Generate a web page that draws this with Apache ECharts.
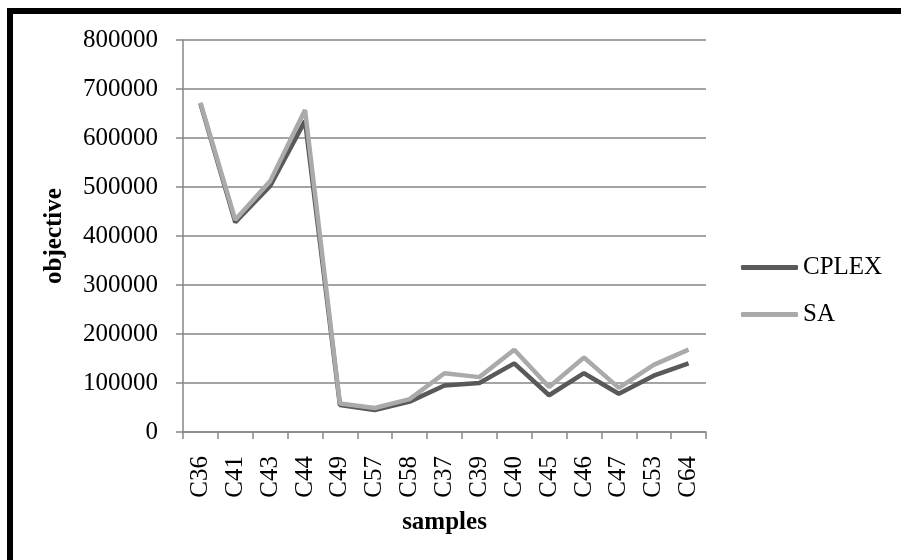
<!DOCTYPE html>
<html>
<head>
<meta charset="utf-8">
<script src="https://cdn.jsdelivr.net/npm/echarts@6/dist/echarts.min.js"></script>
<style>
html,body{margin:0;padding:0;background:#fff;}
#c{width:901px;height:560px;}
</style>
</head>
<body>
<div id="c"></div>
<script>
var categories = ['C36','C41','C43','C44','C49','C57','C58','C37','C39','C40','C45','C46','C47','C53','C64'];
var cplexValues = [670000, 428000, 502000, 635000, 55000, 45000, 62000, 95000, 100000, 140000, 75000, 120000, 78000, 115000, 140000];
var saValues = [672000, 433000, 512000, 657000, 58000, 49000, 67000, 120000, 112000, 168000, 92000, 152000, 90000, 137000, 168000];
var yTicks = [0, 100000, 200000, 300000, 400000, 500000, 600000, 700000, 800000];

var FONT = '"Liberation Serif", "Times New Roman", serif';
var chart = echarts.init(document.getElementById('c'), null, {renderer: 'canvas'});
chart.setOption({
  backgroundColor: '#fff',
  animation: false,
  graphic: [{
    type: 'rect',
    shape: {x: 10, y: 11, width: 1200, height: 1200},
    style: {fill: 'none', stroke: '#000', lineWidth: 6},
    silent: true
  }],
  grid: {left: 183, right: 195, top: 40, bottom: 128, containLabel: false},
  legend: {
    orient: 'vertical',
    left: 736,
    top: 250,
    itemWidth: 57,
    itemHeight: 5,
    itemGap: 22,
    icon: 'roundRect',
    textStyle: {fontFamily: FONT, fontSize: 25, color: '#000', lineHeight: 25, padding: [0,0,0,0]},
    data: ['CPLEX', 'SA']
  },
  xAxis: {
    type: 'category',
    data: categories,
    boundaryGap: true,
    name: 'samples',
    nameLocation: 'middle',
    nameGap: 78,
    nameTextStyle: {fontFamily: FONT, fontSize: 25, fontWeight: 'bold', color: '#000'},
    axisLine: {lineStyle: {color: '#868686', width: 1.5}},
    axisTick: {show: true, length: 7, lineStyle: {color: '#868686', width: 1.5}},
    axisLabel: {rotate: 90, margin: 24, fontFamily: FONT, fontSize: 25, color: '#000', interval: 0},
    splitLine: {show: false}
  },
  yAxis: {
    type: 'value',
    min: 0,
    max: 800000,
    interval: 100000,
    name: 'objective',
    nameLocation: 'middle',
    nameGap: 116,
    nameRotate: 90,
    nameTextStyle: {fontFamily: FONT, fontSize: 25, fontWeight: 'bold', color: '#000'},
    axisLine: {show: true, lineStyle: {color: '#868686', width: 1.5}},
    axisTick: {show: true, length: 7, lineStyle: {color: '#868686', width: 1.5}},
    axisLabel: {
      margin: 25, fontFamily: FONT, fontSize: 25, color: '#000',
      formatter: function (v) { return yTicks.indexOf(v) >= 0 ? String(v) : ''; }
    },
    splitLine: {show: true, lineStyle: {color: '#868686', width: 1.5}}
  },
  series: [
    {
      name: 'CPLEX', type: 'line', data: cplexValues,
      symbol: 'none', showSymbol: false,
      lineStyle: {color: '#595959', width: 4.5},
      itemStyle: {color: '#595959'},
      z: 2
    },
    {
      name: 'SA', type: 'line', data: saValues,
      symbol: 'none', showSymbol: false,
      lineStyle: {color: '#aaaaaa', width: 4.5},
      itemStyle: {color: '#aaaaaa'},
      z: 3
    }
  ]
});
</script>
</body>
</html>
